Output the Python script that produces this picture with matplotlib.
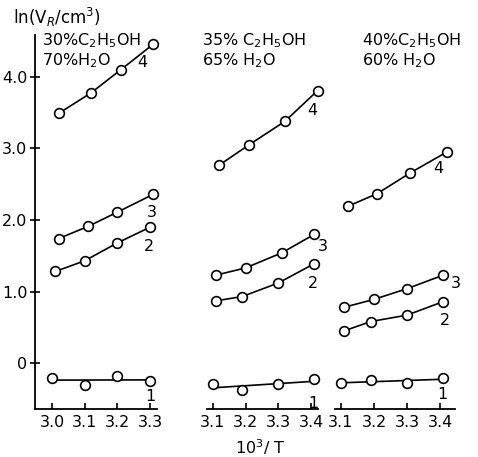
import numpy as np
import matplotlib.pyplot as plt

# 10^3/T values per panel (curves 1..4)
x_30 = [[3.00, 3.10, 3.20, 3.30],
        [3.01, 3.10, 3.20, 3.30],
        [3.02, 3.11, 3.20, 3.31],
        [3.02, 3.12, 3.21, 3.31]]
y_30 = [[-0.21, -0.31, -0.18, -0.25],
        [1.28, 1.43, 1.68, 1.90],
        [1.74, 1.91, 2.11, 2.36],
        [3.49, 3.78, 4.10, 4.46]]

x_35 = [[3.10, 3.19, 3.30, 3.41],
        [3.11, 3.19, 3.30, 3.41],
        [3.11, 3.20, 3.31, 3.41],
        [3.12, 3.21, 3.32, 3.42]]
y_35 = [[-0.30, -0.38, -0.30, -0.23],
        [0.87, 0.93, 1.12, 1.39],
        [1.23, 1.33, 1.54, 1.80],
        [2.77, 3.05, 3.38, 3.81]]

x_40 = [[3.10, 3.19, 3.30, 3.41],
        [3.11, 3.19, 3.30, 3.41],
        [3.11, 3.20, 3.30, 3.41],
        [3.12, 3.21, 3.31, 3.42]]
y_40 = [[-0.28, -0.24, -0.28, -0.21],
        [0.45, 0.58, 0.67, 0.86],
        [0.78, 0.89, 1.04, 1.23],
        [2.19, 2.37, 2.66, 2.95]]

curve_names = ["1", "2", "3", "4"]
headers = [["30%C$_2$H$_5$OH", "70%H$_2$O"],
           ["35% C$_2$H$_5$OH", "65% H$_2$O"],
           ["40%C$_2$H$_5$OH", "60% H$_2$O"]]
xticks_1 = [3.0, 3.1, 3.2, 3.3]
xticks_23 = [3.1, 3.2, 3.3, 3.4]
yticks = [0, 1, 2, 3, 4]
ytick_labels = ["0", "1.0", "2.0", "3.0", "4.0"]

# label offsets in points for the curve numbers
offsets = [[(0, -11), (-1, -14), (-1, -13), (-8, -13)],
           [(-1, -17), (-1, -14), (6, -9), (-4, -14)],
           [(-1, -12), (1, -14), (9, -6), (-6, -12)]]

plt.rcParams["font.family"] = ["DejaVu Sans"]
fig = plt.figure(figsize=(4.78, 4.57), dpi=100)

W, H = 478, 457
boxes = [(35, 157), (207, 318), (335, 455)]
header_x = [42, 202, 362]
xlims = [(2.948, 3.321), (3.082, 3.421), (3.082, 3.445)]
ylim = (-0.643, 4.587)
top_px, bot_px = 35, 409

panels = [(x_30, y_30, xticks_1), (x_35, y_35, xticks_23), (x_40, y_40, xticks_23)]

for i, ((xs, ys, xt), (l, r)) in enumerate(zip(panels, boxes)):
    ax = fig.add_axes([l / W, 1 - bot_px / H, (r - l) / W, (bot_px - top_px) / H])
    ax.set_xlim(*xlims[i])
    ax.set_ylim(*ylim)
    for k in range(4):
        x = np.array(xs[k])
        y = np.array(ys[k])
        if k == 0:
            # curve 1 is drawn as a fitted straight line
            c = np.polyfit(x, y, 1)
            ax.plot(x[[0, -1]], np.polyval(c, x[[0, -1]]), color="black", lw=1.2, clip_on=False)
            ax.plot(x, y, "o", ms=7, mfc="white", mec="black", mew=1.2, clip_on=False)
        else:
            ax.plot(x, y, "-o", color="black", lw=1.2, ms=7, mfc="white",
                    mec="black", mew=1.2, clip_on=False)
        ax.annotate(curve_names[k], (x[-1], y[-1]), xytext=offsets[i][k],
                    textcoords="offset points", fontsize=11.5, ha="center", va="center")
    for s in ["top", "right"]:
        ax.spines[s].set_visible(False)
    ax.spines["bottom"].set_linewidth(1.3)
    ax.set_xticks(xt)
    ax.set_xticklabels([f"{v:.1f}" for v in xt], fontsize=11.5)
    ax.tick_params(axis="x", direction="in", length=4, width=1.2, pad=4)
    if i == 0:
        ax.spines["left"].set_linewidth(1.3)
        ax.set_yticks(yticks)
        ax.set_yticklabels(ytick_labels, fontsize=11.5)
        ax.tick_params(axis="y", direction="inout", length=7, width=1.2, pad=2)
    else:
        ax.spines["left"].set_visible(False)
        ax.set_yticks([])
    fig.text(header_x[i] / W, 1 - 41 / H, headers[i][0], fontsize=11.5, va="center", ha="left")
    fig.text(header_x[i] / W, 1 - 61 / H, headers[i][1], fontsize=11.5, va="center", ha="left")

fig.text(13 / W, 1 - 17 / H, "ln(V$_R$/cm$^3$)", fontsize=12, ha="left", va="center")
fig.text(260 / W, 1 - 454 / H, "10$^3$/ T", fontsize=11.5, ha="center", va="baseline")

fig.savefig("out.png", dpi=100)
